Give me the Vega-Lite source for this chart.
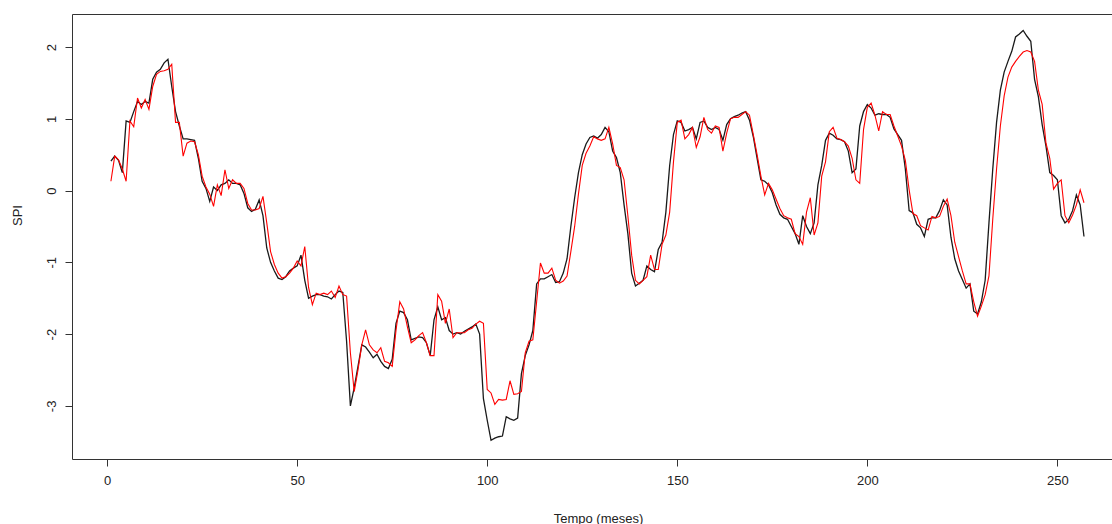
{
"$schema": "https://vega.github.io/schema/vega-lite/v6.json",
"width": 1040, "height": 445,
"autosize": {"type": "none"},
"padding": {"left": 72, "top": 14, "right": 0, "bottom": 65},
"background": "white",
"config": {"view": {"stroke": null}, "font": "Liberation Sans"},
"data": {"values": [
{"t":1,"obs":0.41,"pred":0.13},{"t":2,"obs":0.48,"pred":0.48},{"t":3,"obs":0.42,"pred":0.43},{"t":4,"obs":0.25,"pred":0.30},{"t":5,"obs":0.97,"pred":0.13},
{"t":6,"obs":0.95,"pred":0.97},{"t":7,"obs":1.10,"pred":0.89},{"t":8,"obs":1.24,"pred":1.29},{"t":9,"obs":1.20,"pred":1.15},{"t":10,"obs":1.24,"pred":1.27},
{"t":11,"obs":1.22,"pred":1.13},{"t":12,"obs":1.55,"pred":1.45},{"t":13,"obs":1.65,"pred":1.62},{"t":14,"obs":1.69,"pred":1.66},{"t":15,"obs":1.78,"pred":1.67},
{"t":16,"obs":1.83,"pred":1.69},{"t":17,"obs":1.45,"pred":1.76},{"t":18,"obs":1.10,"pred":0.95},{"t":19,"obs":0.90,"pred":0.95},{"t":20,"obs":0.72,"pred":0.48},
{"t":21,"obs":0.72,"pred":0.66},{"t":22,"obs":0.71,"pred":0.69},{"t":23,"obs":0.70,"pred":0.68},{"t":24,"obs":0.45,"pred":0.50},{"t":25,"obs":0.13,"pred":0.20},
{"t":26,"obs":0.03,"pred":0.05},{"t":27,"obs":-0.15,"pred":-0.05},{"t":28,"obs":0.05,"pred":-0.22},{"t":29,"obs":0.00,"pred":0.08},{"t":30,"obs":0.08,"pred":-0.07},
{"t":31,"obs":0.10,"pred":0.29},{"t":32,"obs":0.15,"pred":0.03},{"t":33,"obs":0.10,"pred":0.15},{"t":34,"obs":0.10,"pred":0.10},{"t":35,"obs":0.08,"pred":0.10},
{"t":36,"obs":-0.04,"pred":0.03},{"t":37,"obs":-0.24,"pred":-0.18},{"t":38,"obs":-0.29,"pred":-0.27},{"t":39,"obs":-0.26,"pred":-0.27},{"t":40,"obs":-0.13,"pred":-0.25},
{"t":41,"obs":-0.35,"pred":-0.08},{"t":42,"obs":-0.80,"pred":-0.45},{"t":43,"obs":-1.00,"pred":-0.85},{"t":44,"obs":-1.12,"pred":-1.03},{"t":45,"obs":-1.22,"pred":-1.15},
{"t":46,"obs":-1.24,"pred":-1.22},{"t":47,"obs":-1.20,"pred":-1.20},{"t":48,"obs":-1.12,"pred":-1.15},{"t":49,"obs":-1.08,"pred":-1.08},{"t":50,"obs":-1.05,"pred":-0.98},
{"t":51,"obs":-0.90,"pred":-1.05},{"t":52,"obs":-1.25,"pred":-0.78},{"t":53,"obs":-1.50,"pred":-1.35},{"t":54,"obs":-1.47,"pred":-1.59},{"t":55,"obs":-1.45,"pred":-1.43},
{"t":56,"obs":-1.45,"pred":-1.45},{"t":57,"obs":-1.47,"pred":-1.43},{"t":58,"obs":-1.48,"pred":-1.45},{"t":59,"obs":-1.51,"pred":-1.40},{"t":60,"obs":-1.45,"pred":-1.49},
{"t":61,"obs":-1.40,"pred":-1.33},{"t":62,"obs":-1.42,"pred":-1.45},{"t":63,"obs":-2.10,"pred":-1.47},{"t":64,"obs":-3.00,"pred":-2.26},{"t":65,"obs":-2.75,"pred":-2.80},
{"t":66,"obs":-2.45,"pred":-2.50},{"t":67,"obs":-2.15,"pred":-2.15},{"t":68,"obs":-2.18,"pred":-1.94},{"t":69,"obs":-2.25,"pred":-2.15},{"t":70,"obs":-2.33,"pred":-2.22},
{"t":71,"obs":-2.28,"pred":-2.26},{"t":72,"obs":-2.38,"pred":-2.19},{"t":73,"obs":-2.45,"pred":-2.38},{"t":74,"obs":-2.48,"pred":-2.40},{"t":75,"obs":-2.35,"pred":-2.45},
{"t":76,"obs":-1.85,"pred":-1.95},{"t":77,"obs":-1.68,"pred":-1.55},{"t":78,"obs":-1.70,"pred":-1.65},{"t":79,"obs":-1.80,"pred":-1.90},{"t":80,"obs":-2.08,"pred":-2.12},
{"t":81,"obs":-2.06,"pred":-2.08},{"t":82,"obs":-2.04,"pred":-2.02},{"t":83,"obs":-2.05,"pred":-1.98},{"t":84,"obs":-2.12,"pred":-2.12},{"t":85,"obs":-2.30,"pred":-2.30},
{"t":86,"obs":-1.80,"pred":-2.30},{"t":87,"obs":-1.62,"pred":-1.45},{"t":88,"obs":-1.80,"pred":-1.54},{"t":89,"obs":-1.77,"pred":-1.85},{"t":90,"obs":-1.95,"pred":-1.65},
{"t":91,"obs":-2.00,"pred":-2.05},{"t":92,"obs":-1.98,"pred":-1.98},{"t":93,"obs":-2.00,"pred":-1.98},{"t":94,"obs":-1.96,"pred":-1.98},{"t":95,"obs":-1.93,"pred":-1.94},
{"t":96,"obs":-1.90,"pred":-1.92},{"t":97,"obs":-1.86,"pred":-1.86},{"t":98,"obs":-2.00,"pred":-1.82},{"t":99,"obs":-2.90,"pred":-1.85},{"t":100,"obs":-3.20,"pred":-2.77},
{"t":101,"obs":-3.48,"pred":-2.82},{"t":102,"obs":-3.45,"pred":-2.98},{"t":103,"obs":-3.43,"pred":-2.91},{"t":104,"obs":-3.42,"pred":-2.92},{"t":105,"obs":-3.15,"pred":-2.91},
{"t":106,"obs":-3.18,"pred":-2.65},{"t":107,"obs":-3.20,"pred":-2.84},{"t":108,"obs":-3.17,"pred":-2.83},{"t":109,"obs":-2.55,"pred":-2.80},{"t":110,"obs":-2.30,"pred":-2.26},
{"t":111,"obs":-2.15,"pred":-2.10},{"t":112,"obs":-1.95,"pred":-2.08},{"t":113,"obs":-1.30,"pred":-1.55},{"t":114,"obs":-1.23,"pred":-1.01},{"t":115,"obs":-1.23,"pred":-1.15},
{"t":116,"obs":-1.20,"pred":-1.15},{"t":117,"obs":-1.17,"pred":-1.08},{"t":118,"obs":-1.28,"pred":-1.25},{"t":119,"obs":-1.27,"pred":-1.29},{"t":120,"obs":-1.15,"pred":-1.26},
{"t":121,"obs":-0.95,"pred":-1.19},{"t":122,"obs":-0.50,"pred":-0.85},{"t":123,"obs":-0.10,"pred":-0.50},{"t":124,"obs":0.25,"pred":-0.05},{"t":125,"obs":0.50,"pred":0.35},
{"t":126,"obs":0.65,"pred":0.52},{"t":127,"obs":0.74,"pred":0.62},{"t":128,"obs":0.76,"pred":0.75},{"t":129,"obs":0.73,"pred":0.72},{"t":130,"obs":0.78,"pred":0.70},
{"t":131,"obs":0.88,"pred":0.72},{"t":132,"obs":0.82,"pred":0.88},{"t":133,"obs":0.55,"pred":0.65},{"t":134,"obs":0.46,"pred":0.35},{"t":135,"obs":0.25,"pred":0.32},
{"t":136,"obs":-0.20,"pred":0.15},{"t":137,"obs":-0.60,"pred":-0.35},{"t":138,"obs":-1.15,"pred":-0.90},{"t":139,"obs":-1.33,"pred":-1.25},{"t":140,"obs":-1.29,"pred":-1.30},
{"t":141,"obs":-1.25,"pred":-1.25},{"t":142,"obs":-1.05,"pred":-1.20},{"t":143,"obs":-1.10,"pred":-0.90},{"t":144,"obs":-1.13,"pred":-1.10},{"t":145,"obs":-0.82,"pred":-1.10},
{"t":146,"obs":-0.72,"pred":-0.75},{"t":147,"obs":-0.30,"pred":-0.62},{"t":148,"obs":0.35,"pred":-0.30},{"t":149,"obs":0.78,"pred":0.40},{"t":150,"obs":0.97,"pred":0.95},
{"t":151,"obs":0.95,"pred":0.98},{"t":152,"obs":0.83,"pred":0.72},{"t":153,"obs":0.85,"pred":0.78},{"t":154,"obs":0.88,"pred":0.88},{"t":155,"obs":0.72,"pred":0.60},
{"t":156,"obs":0.95,"pred":0.75},{"t":157,"obs":0.97,"pred":1.02},{"t":158,"obs":0.88,"pred":0.85},{"t":159,"obs":0.85,"pred":0.80},{"t":160,"obs":0.88,"pred":0.90},
{"t":161,"obs":0.85,"pred":0.88},{"t":162,"obs":0.70,"pred":0.55},{"t":163,"obs":0.92,"pred":0.80},{"t":164,"obs":1.00,"pred":1.00},{"t":165,"obs":1.03,"pred":1.02},
{"t":166,"obs":1.05,"pred":1.02},{"t":167,"obs":1.08,"pred":1.06},{"t":168,"obs":1.10,"pred":1.10},{"t":169,"obs":0.98,"pred":1.05},{"t":170,"obs":0.75,"pred":0.78},
{"t":171,"obs":0.45,"pred":0.50},{"t":172,"obs":0.15,"pred":0.20},{"t":173,"obs":0.13,"pred":-0.06},{"t":174,"obs":0.08,"pred":0.10},{"t":175,"obs":-0.03,"pred":0.01},
{"t":176,"obs":-0.20,"pred":-0.12},{"t":177,"obs":-0.33,"pred":-0.25},{"t":178,"obs":-0.38,"pred":-0.35},{"t":179,"obs":-0.40,"pred":-0.38},{"t":180,"obs":-0.50,"pred":-0.40},
{"t":181,"obs":-0.60,"pred":-0.60},{"t":182,"obs":-0.75,"pred":-0.64},{"t":183,"obs":-0.35,"pred":-0.75},{"t":184,"obs":-0.50,"pred":-0.30},{"t":185,"obs":-0.60,"pred":-0.10},
{"t":186,"obs":-0.45,"pred":-0.62},{"t":187,"obs":0.08,"pred":-0.45},{"t":188,"obs":0.35,"pred":0.20},{"t":189,"obs":0.70,"pred":0.40},{"t":190,"obs":0.80,"pred":0.82},
{"t":191,"obs":0.77,"pred":0.88},{"t":192,"obs":0.72,"pred":0.73},{"t":193,"obs":0.71,"pred":0.71},{"t":194,"obs":0.68,"pred":0.68},{"t":195,"obs":0.55,"pred":0.62},
{"t":196,"obs":0.25,"pred":0.45},{"t":197,"obs":0.30,"pred":0.15},{"t":198,"obs":0.90,"pred":0.10},{"t":199,"obs":1.10,"pred":0.85},{"t":200,"obs":1.20,"pred":1.16},
{"t":201,"obs":1.15,"pred":1.22},{"t":202,"obs":1.05,"pred":1.05},{"t":203,"obs":1.07,"pred":0.83},{"t":204,"obs":1.06,"pred":1.10},{"t":205,"obs":1.06,"pred":1.06},
{"t":206,"obs":1.02,"pred":1.06},{"t":207,"obs":0.86,"pred":0.90},{"t":208,"obs":0.78,"pred":0.76},{"t":209,"obs":0.70,"pred":0.62},{"t":210,"obs":0.30,"pred":0.42},
{"t":211,"obs":-0.28,"pred":0.01},{"t":212,"obs":-0.31,"pred":-0.32},{"t":213,"obs":-0.47,"pred":-0.35},{"t":214,"obs":-0.52,"pred":-0.49},{"t":215,"obs":-0.64,"pred":-0.52},
{"t":216,"obs":-0.40,"pred":-0.55},{"t":217,"obs":-0.38,"pred":-0.36},{"t":218,"obs":-0.38,"pred":-0.38},{"t":219,"obs":-0.28,"pred":-0.36},{"t":220,"obs":-0.13,"pred":-0.22},
{"t":221,"obs":-0.20,"pred":-0.12},{"t":222,"obs":-0.65,"pred":-0.35},{"t":223,"obs":-0.95,"pred":-0.72},{"t":224,"obs":-1.12,"pred":-0.92},{"t":225,"obs":-1.24,"pred":-1.12},
{"t":226,"obs":-1.36,"pred":-1.30},{"t":227,"obs":-1.30,"pred":-1.30},{"t":228,"obs":-1.68,"pred":-1.55},{"t":229,"obs":-1.72,"pred":-1.75},{"t":230,"obs":-1.55,"pred":-1.61},
{"t":231,"obs":-1.25,"pred":-1.45},{"t":232,"obs":-0.45,"pred":-1.19},{"t":233,"obs":0.30,"pred":-0.40},{"t":234,"obs":0.95,"pred":0.30},{"t":235,"obs":1.40,"pred":0.90},
{"t":236,"obs":1.65,"pred":1.32},{"t":237,"obs":1.80,"pred":1.58},{"t":238,"obs":1.94,"pred":1.72},{"t":239,"obs":2.14,"pred":1.80},{"t":240,"obs":2.18,"pred":1.87},
{"t":241,"obs":2.23,"pred":1.93},{"t":242,"obs":2.15,"pred":1.95},{"t":243,"obs":2.08,"pred":1.93},{"t":244,"obs":1.55,"pred":1.80},{"t":245,"obs":1.31,"pred":1.40},
{"t":246,"obs":0.92,"pred":1.20},{"t":247,"obs":0.62,"pred":0.66},{"t":248,"obs":0.25,"pred":0.45},{"t":249,"obs":0.21,"pred":0.02},{"t":250,"obs":0.15,"pred":0.10},
{"t":251,"obs":-0.35,"pred":0.15},{"t":252,"obs":-0.45,"pred":-0.35},{"t":253,"obs":-0.40,"pred":-0.45},{"t":254,"obs":-0.28,"pred":-0.34},{"t":255,"obs":-0.06,"pred":-0.20},
{"t":256,"obs":-0.20,"pred":0.01},{"t":257,"obs":-0.64,"pred":-0.17}
]},
"layer": [
{"mark": {"type": "line", "color": "#1a1a1a", "strokeWidth": 1.3},
 "encoding": {
  "x": {"field": "t", "type": "quantitative",
        "scale": {"domain": [-9.24, 264.37], "nice": false, "zero": false},
        "axis": {"orient": "bottom", "values": [0,50,100,150,200,250], "grid": false, "tickSize": 7, "tickColor": "#333", "tickWidth": 1,
                 "domainColor": "#333", "domainWidth": 1, "labelFontSize": 13, "labelColor": "#222", "labelPadding": 8, "labelFlush": false,
                 "title": "Tempo (meses)", "titleFontSize": 13, "titleFontWeight": "normal", "titleColor": "#222",
                 "titleX": 526, "titleY": 59, "titleAlign": "center", "titleBaseline": "middle"}},
  "y": {"field": "obs", "type": "quantitative",
        "scale": {"domain": [-3.74, 2.46], "nice": false, "zero": false},
        "axis": {"orient": "left", "values": [-3,-2,-1,0,1,2], "labelExpr": "datum.value + ''", "grid": false, "tickSize": 7, "tickColor": "#333", "tickWidth": 1,
                 "domainColor": "#333", "domainWidth": 1, "labelFontSize": 13, "labelColor": "#222", "labelPadding": 7, "labelFlush": false,
                 "labelAngle": -90, "labelAlign": "center", "labelBaseline": "bottom",
                 "title": "SPI", "titleFontSize": 13, "titleFontWeight": "normal", "titleColor": "#222",
                 "titleX": -55, "titleY": 201, "titleAngle": -90, "titleAlign": "center", "titleBaseline": "middle"}}
 }},
{"mark": {"type": "line", "color": "#ff0000", "strokeWidth": 1.1},
 "encoding": {
  "x": {"field": "t", "type": "quantitative",
        "axis": {"orient": "top", "labels": false, "ticks": false, "title": null, "grid": false, "domain": true, "domainColor": "#333", "domainWidth": 1}},
  "y": {"field": "pred", "type": "quantitative", "axis": null}
 }}
],
"resolve": {"axis": {"x": "independent", "y": "independent"}}
}
